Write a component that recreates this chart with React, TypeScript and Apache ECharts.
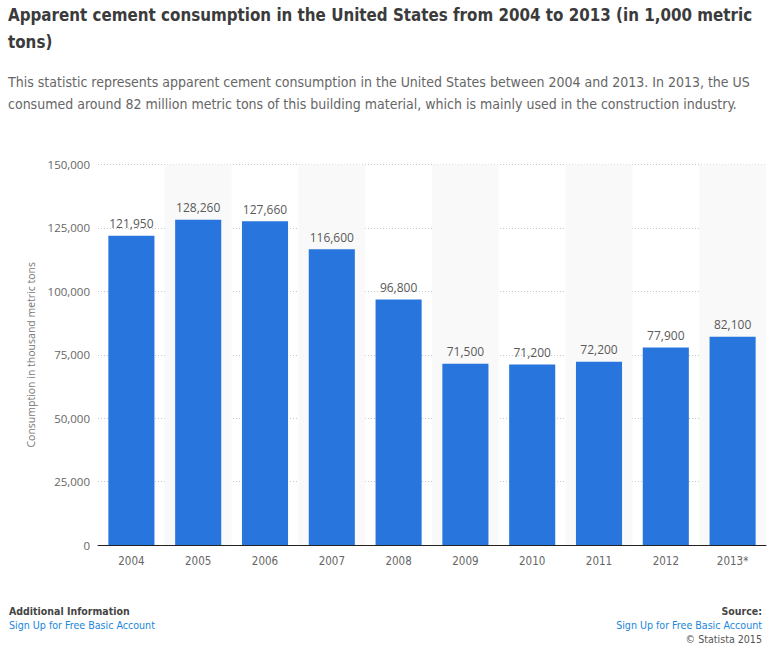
import React, { useEffect, useRef } from "react";
import * as echarts from "echarts";

const categories = ["2004", "2005", "2006", "2007", "2008", "2009", "2010", "2011", "2012", "2013*"];
const values = [121950, 128260, 127660, 116600, 96800, 71500, 71200, 72200, 77900, 82100];
const yTicks = { min: 0, max: 150000, interval: 25000 };
const titleLines = [
  "Apparent cement consumption in the United States from 2004 to 2013 (in 1,000 metric",
  "tons)",
];
const descLines = [
  "This statistic represents apparent cement consumption in the United States between 2004 and 2013. In 2013, the US",
  "consumed around 82 million metric tons of this building material, which is mainly used in the construction industry.",
];
const yAxisName = "Consumption in thousand metric tons";

const NARROW = "'Liberation Sans Narrow', 'DejaVu Sans Condensed', 'Open Sans Condensed', 'Roboto Condensed', 'Open Sans', sans-serif";
const SANS = "'Open Sans', 'Noto Sans', sans-serif";

const fmt = (v: number) => v.toLocaleString("en-US");

export default function App() {
  const ref = useRef<HTMLDivElement>(null);
  useEffect(() => {
    if (!ref.current) return;
    const chart = echarts.init(ref.current, undefined, { renderer: "svg" });
    chart.setOption({
      animation: false,
      backgroundColor: "#ffffff",
      grid: { left: 98, right: 9, top: 164.5, bottom: 102, containLabel: false },
      xAxis: {
        type: "category",
        data: categories,
        axisLine: { show: true, lineStyle: { color: "#222222", width: 1 } },
        axisTick: { show: false },
        axisLabel: { color: "#666666", fontSize: 11.5, fontFamily: NARROW, margin: 10 },
        splitArea: { show: true, areaStyle: { color: ["rgba(255,255,255,0)", "#f9f9f9"] } },
      },
      yAxis: {
        type: "value",
        min: yTicks.min,
        max: yTicks.max,
        interval: yTicks.interval,
        name: yAxisName,
        nameLocation: "middle",
        nameGap: 62,
        nameRotate: 90,
        nameTextStyle: { color: "#777777", fontSize: 10.5, fontFamily: SANS },
        axisLine: { show: false },
        axisTick: { show: false },
        axisLabel: { color: "#666666", fontSize: 11.5, fontFamily: SANS, margin: 8, formatter: (v: number) => fmt(v) },
        splitLine: { show: true, lineStyle: { color: "#c8c8c8", type: [1, 2], width: 1 } },
      },
      series: [
        {
          type: "bar",
          data: values,
          barWidth: "69%",
          itemStyle: { color: "#2876dd" },
          label: {
            show: true,
            position: "top",
            distance: 6,
            color: "#5a5a5a",
            fontSize: 12,
            fontFamily: SANS,
            formatter: (p: any) => fmt(p.value),
          },
        },
      ],
      graphic: [
        ...titleLines.map((t, i) => ({
          type: "text",
          x: 8,
          y: 15 + i * 27,
          scaleX: 0.935,
          style: { text: t, font: `bold 18px ${NARROW}`, fill: "#3b3b3b", verticalAlign: "middle", align: "left" },
        })),
        ...descLines.map((t, i) => ({
          type: "text",
          x: 8,
          y: 82 + i * 22,
          style: { text: t, font: `14px ${NARROW}`, fill: "#666666", verticalAlign: "middle", align: "left" },
        })),
        { type: "text", x: 9, y: 611, style: { text: "Additional Information", font: `bold 10.5px ${NARROW}`, fill: "#444444", verticalAlign: "middle", align: "left" } },
        { type: "text", x: 9, y: 625, style: { text: "Sign Up for Free Basic Account", font: `10.6px ${NARROW}`, fill: "#1a86dc", verticalAlign: "middle", align: "left" } },
        { type: "text", x: 762, y: 611, style: { text: "Source:", font: `bold 10.5px ${NARROW}`, fill: "#444444", verticalAlign: "middle", align: "right" } },
        { type: "text", x: 762, y: 625, style: { text: "Sign Up for Free Basic Account", font: `10.6px ${NARROW}`, fill: "#1a86dc", verticalAlign: "middle", align: "right" } },
        { type: "text", x: 762, y: 639, style: { text: "© Statista 2015", font: `10.6px ${NARROW}`, fill: "#555555", verticalAlign: "middle", align: "right" } },
      ],
    });
    return () => chart.dispose();
  }, []);
  return <div ref={ref} style={{ position: "fixed", left: 0, top: 0, width: 775, height: 647 }} />;
}
